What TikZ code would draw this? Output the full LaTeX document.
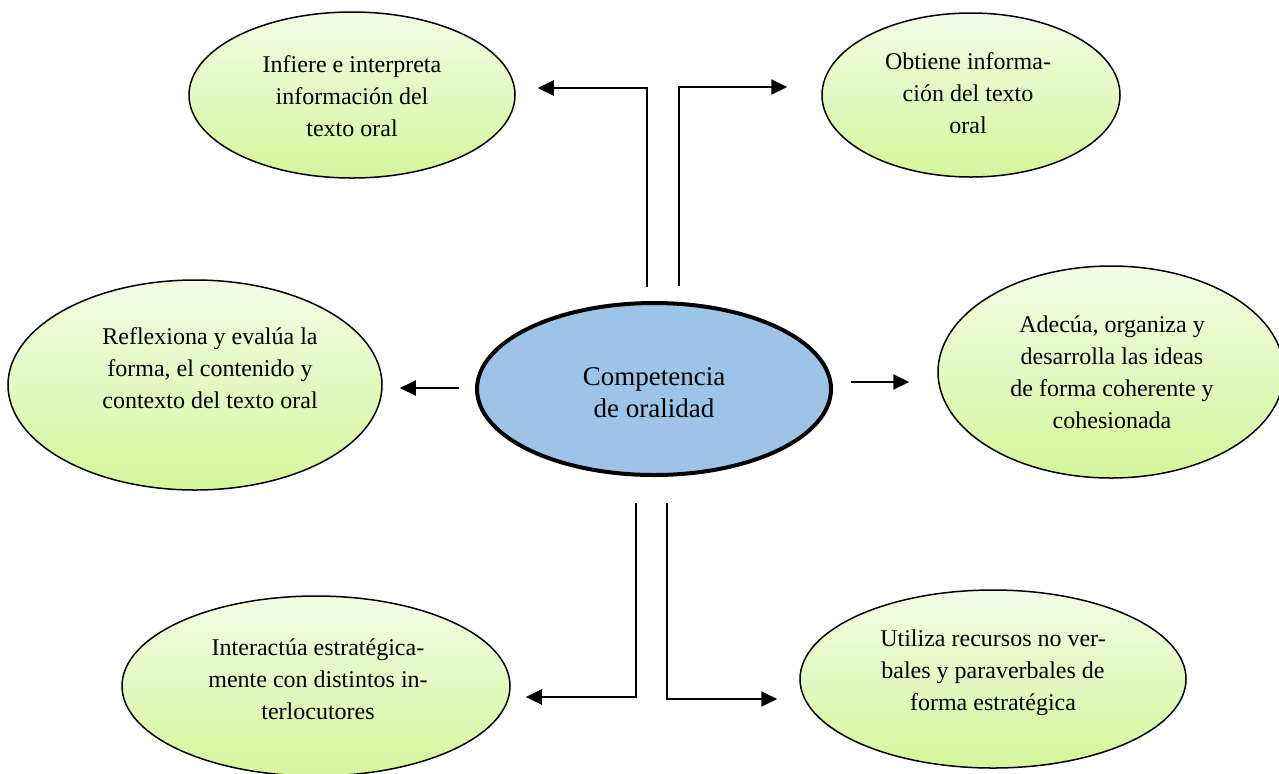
\documentclass[tikz,border=0pt]{standalone}
\usepackage{fontspec}
\setmainfont{Liberation Serif}
\usetikzlibrary{shapes.geometric,arrows.meta,calc}
\definecolor{gtop}{RGB}{243,251,230}
\definecolor{gbot}{RGB}{212,246,155}
\definecolor{cblue}{RGB}{157,195,230}
\begin{document}
\begin{tikzpicture}[x=0.5pt,y=-0.5pt,
  ell/.style={ellipse,draw=black,line width=0.75pt,top color=gtop,bottom color=gbot,inner sep=0pt},
  cell/.style={ellipse,draw=black,line width=2pt,fill=cblue,inner sep=0pt},
  txt/.style={align=center,font=\fontsize{12}{16}\selectfont,inner sep=0pt},
  arr/.style={line width=1pt,-{Triangle[length=8pt,width=7.5pt]}},
  bar/.style={line width=0.9pt}]
\useasboundingbox (0,0) rectangle (1279,773);
% nodes
\node[ell,minimum width=163pt,minimum height=83pt] (e1) at (352,95) {};
\node[ell,minimum width=149pt,minimum height=82pt] (e2) at (971,95) {};
\node[ell,minimum width=187pt,minimum height=105pt] (e3) at (195,385) {};
\node[ell,minimum width=173pt,minimum height=106pt] (e4) at (1111,372) {};
\node[cell,minimum width=177pt,minimum height=86pt] (c) at (654,389) {};
\node[ell,minimum width=194pt,minimum height=90pt] (e5) at (316,686) {};
\node[ell,minimum width=193pt,minimum height=89pt] (e6) at (993,679) {};
% texts
\node[txt] (t1) at (352,96) {Infiere e interpreta\\información del\\texto oral};
\node[txt] (t2) at (968,93) {Obtiene informa-\\ción del texto\\oral};
\node[txt] (t3) at (210,368) {Reflexiona y evalúa la\\forma, el contenido y\\contexto del texto oral};
\node[txt] (t4) at (1112,372) {Adecúa, organiza y\\desarrolla las ideas\\de forma coherente y\\cohesionada};
\node[txt,font=\fontsize{13.5}{16}\selectfont] (tc) at (654,393) {Competencia\\de oralidad};
\node[txt] (t5) at (318,679) {Interactúa estratégica-\\mente con distintos in-\\terlocutores};
\node[txt] (t6) at (993,673) {Utiliza recursos no ver-\\bales y paraverbales de\\forma estratégica};
% connector start points
\coordinate (tl) at (647,287);
\coordinate (tr) at (679,286);
\coordinate (bl) at (636,503);
\coordinate (br) at (667,503);
% connectors
\draw[arr] (tl) |- ($(e1.east)+(22,-7)$);
\draw[arr] (tr) |- ($(e2.west)+(-34,-8)$);
\draw[arr] ($(c.west)+(-16,-1)$) -- ($(e3.east)+(17,3)$);
\draw[arr] ($(c.east)+(18,-7)$) -- ($(e4.west)+(-28,10)$);
\draw[arr] (bl) |- ($(e5.east)+(15,11)$);
\draw[arr] (br) |- ($(e6.west)+(-22,20)$);
\end{tikzpicture}
\end{document}
